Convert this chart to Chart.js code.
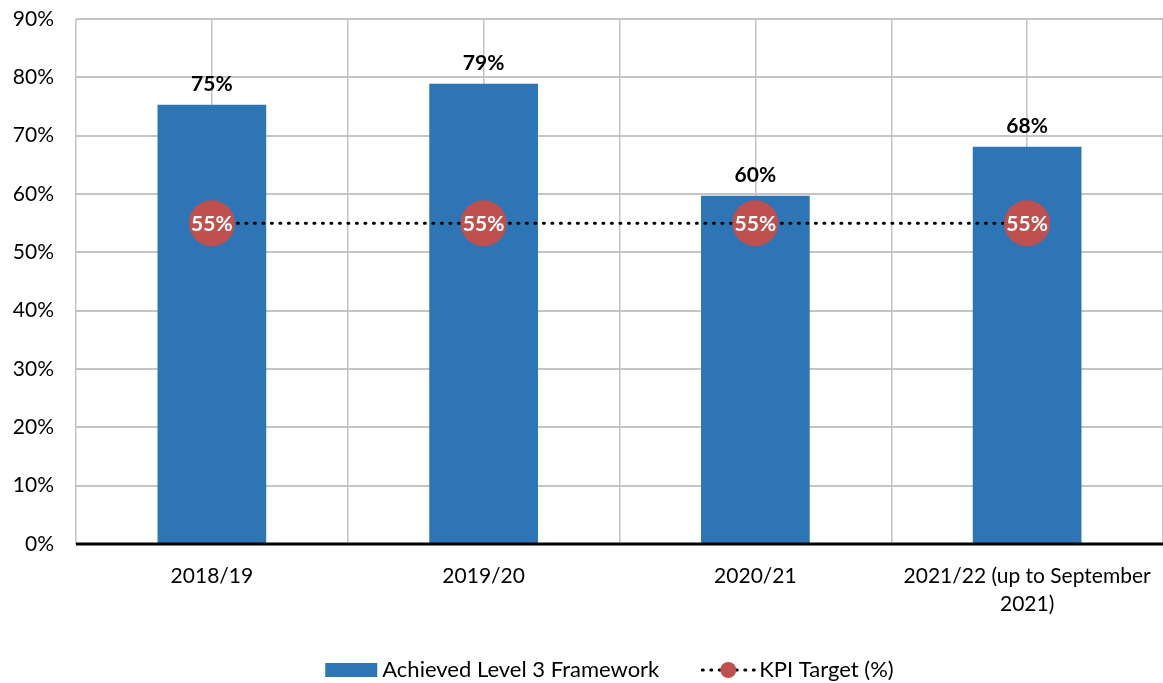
<!DOCTYPE html>
<html><head><meta charset="utf-8">
<script src="https://cdn.jsdelivr.net/npm/chart.js@4/dist/chart.umd.min.js"></script>
<style>html,body{margin:0;padding:0;background:#fff;overflow:hidden;}#wrap{width:1163px;height:683px;position:relative;}canvas{display:block;}</style>
</head><body><div id="wrap"><canvas id="c"></canvas></div>
<script>
const categories = [['2018/19'], ['2019/20'], ['2020/21'], ['2021/22 (up to September', '2021)']];
const achieved = [75.3, 78.9, 59.7, 68.1];
const achievedLabels = ['75%', '79%', '60%', '68%'];
const kpiTarget = [55, 55, 55, 55];
const kpiLabels = ['55%', '55%', '55%', '55%'];
const seriesNames = ['Achieved Level 3 Framework', 'KPI Target (%)'];
const yMin = 0, yMax = 90, yStep = 10;

const FONT = 'Lato, "Open Sans", sans-serif';
const BLUE = '#2E75B6', RED = '#C0504D', GRID = '#C4C4C4';

const labelsPlugin = {
  id: 'labelsPlugin',
  afterDatasetsDraw(chart) {
    const ctx = chart.ctx;
    const area = chart.chartArea;
    ctx.save();
    const y0 = chart.scales.y.getPixelForValue(0);
    ctx.strokeStyle = '#000'; ctx.lineWidth = 3;
    ctx.beginPath(); ctx.moveTo(area.left, y0); ctx.lineTo(area.right, y0); ctx.stroke();
    const barMeta = chart.getDatasetMeta(0);
    ctx.fillStyle = '#000'; ctx.textAlign = 'center'; ctx.textBaseline = 'middle';
    ctx.font = 'bold 21px ' + FONT;
    barMeta.data.forEach((el, i) => { ctx.fillText(achievedLabels[i], el.x, el.y - 21); });
    const lineMeta = chart.getDatasetMeta(1);
    ctx.fillStyle = '#fff'; ctx.font = 'bold 21px ' + FONT;
    lineMeta.data.forEach((el, i) => { ctx.fillText(kpiLabels[i], el.x, el.y + 1); });
    ctx.restore();
  },
  afterDraw(chart) {
    const ctx = chart.ctx;
    ctx.save();
    ctx.font = '22px ' + FONT;
    ctx.textBaseline = 'middle'; ctx.textAlign = 'left'; ctx.fillStyle = '#000';
    const y = 670;
    const w1 = ctx.measureText(seriesNames[0]).width;
    const w2 = ctx.measureText(seriesNames[1]).width;
    const sym = 52, gap = 5, between = 43;
    const total = sym + gap + w1 + between + sym + gap + w2;
    let x = (1163 - total) / 2 + 28;
    ctx.fillStyle = BLUE; ctx.fillRect(x, y - 7, sym, 14);
    ctx.fillStyle = '#000'; ctx.fillText(seriesNames[0], x + sym + gap, y);
    x += sym + gap + w1 + between;
    ctx.strokeStyle = '#000'; ctx.lineWidth = 3; ctx.lineCap = 'round';
    ctx.setLineDash([1, 7.5]);
    ctx.beginPath(); ctx.moveTo(x, y); ctx.lineTo(x + sym, y); ctx.stroke();
    ctx.setLineDash([]);
    ctx.fillStyle = RED; ctx.beginPath(); ctx.arc(x + sym / 2, y, 8, 0, Math.PI * 2); ctx.fill();
    ctx.fillStyle = '#000'; ctx.fillText(seriesNames[1], x + sym + gap, y);
    ctx.restore();
  }
};

new Chart(document.getElementById('c'), {
  type: 'bar',
  data: {
    labels: categories,
    datasets: [
      { label: seriesNames[0], data: achieved, backgroundColor: BLUE, borderWidth: 0,
        categoryPercentage: 1, barPercentage: 0.4, order: 1 },
      { type: 'line', label: seriesNames[1], data: kpiTarget, borderColor: '#000', borderWidth: 3,
        borderDash: [1, 7.5], borderCapStyle: 'round', pointRadius: 23, pointHoverRadius: 23,
        pointBackgroundColor: RED, pointBorderWidth: 0, fill: false, tension: 0, order: 0 }
    ]
  },
  options: {
    responsive: true, maintainAspectRatio: false, animation: false,
    layout: { autoPadding: false, padding: { top: 19, right: 0, left: 0, bottom: 0 } },
    plugins: { legend: { display: false }, tooltip: { enabled: false } },
    scales: {
      x: {
        offset: true,
        grid: { offset: true, color: GRID, lineWidth: 1.5, drawTicks: false },
        border: { display: false },
        ticks: { color: '#000', font: { family: FONT, size: 21, lineHeight: 1.3 }, padding: 19, maxRotation: 0, autoSkip: false },
        afterFit(s) { s.height = 139; s.paddingLeft = 0; s.paddingRight = 0; }
      },
      x2: {
        type: 'category', labels: categories, position: 'bottom', offset: true,
        grid: { offset: false, color: GRID, lineWidth: 1.5, drawTicks: false },
        border: { display: false },
        ticks: { display: false },
        afterFit(s) { s.height = 0; s.paddingLeft = 0; s.paddingRight = 0; }
      },
      y: {
        min: yMin, max: yMax,
        ticks: { stepSize: yStep, color: '#000', font: { family: FONT, size: 21 }, padding: 22,
                 callback: v => v + '%' },
        grid: { color: GRID, lineWidth: 2, drawTicks: false },
        border: { display: false },
        afterFit(s) { s.width = 76; s.paddingTop = 0; s.paddingBottom = 0; }
      }
    }
  },
  plugins: [labelsPlugin]
});
</script>
</body></html>
